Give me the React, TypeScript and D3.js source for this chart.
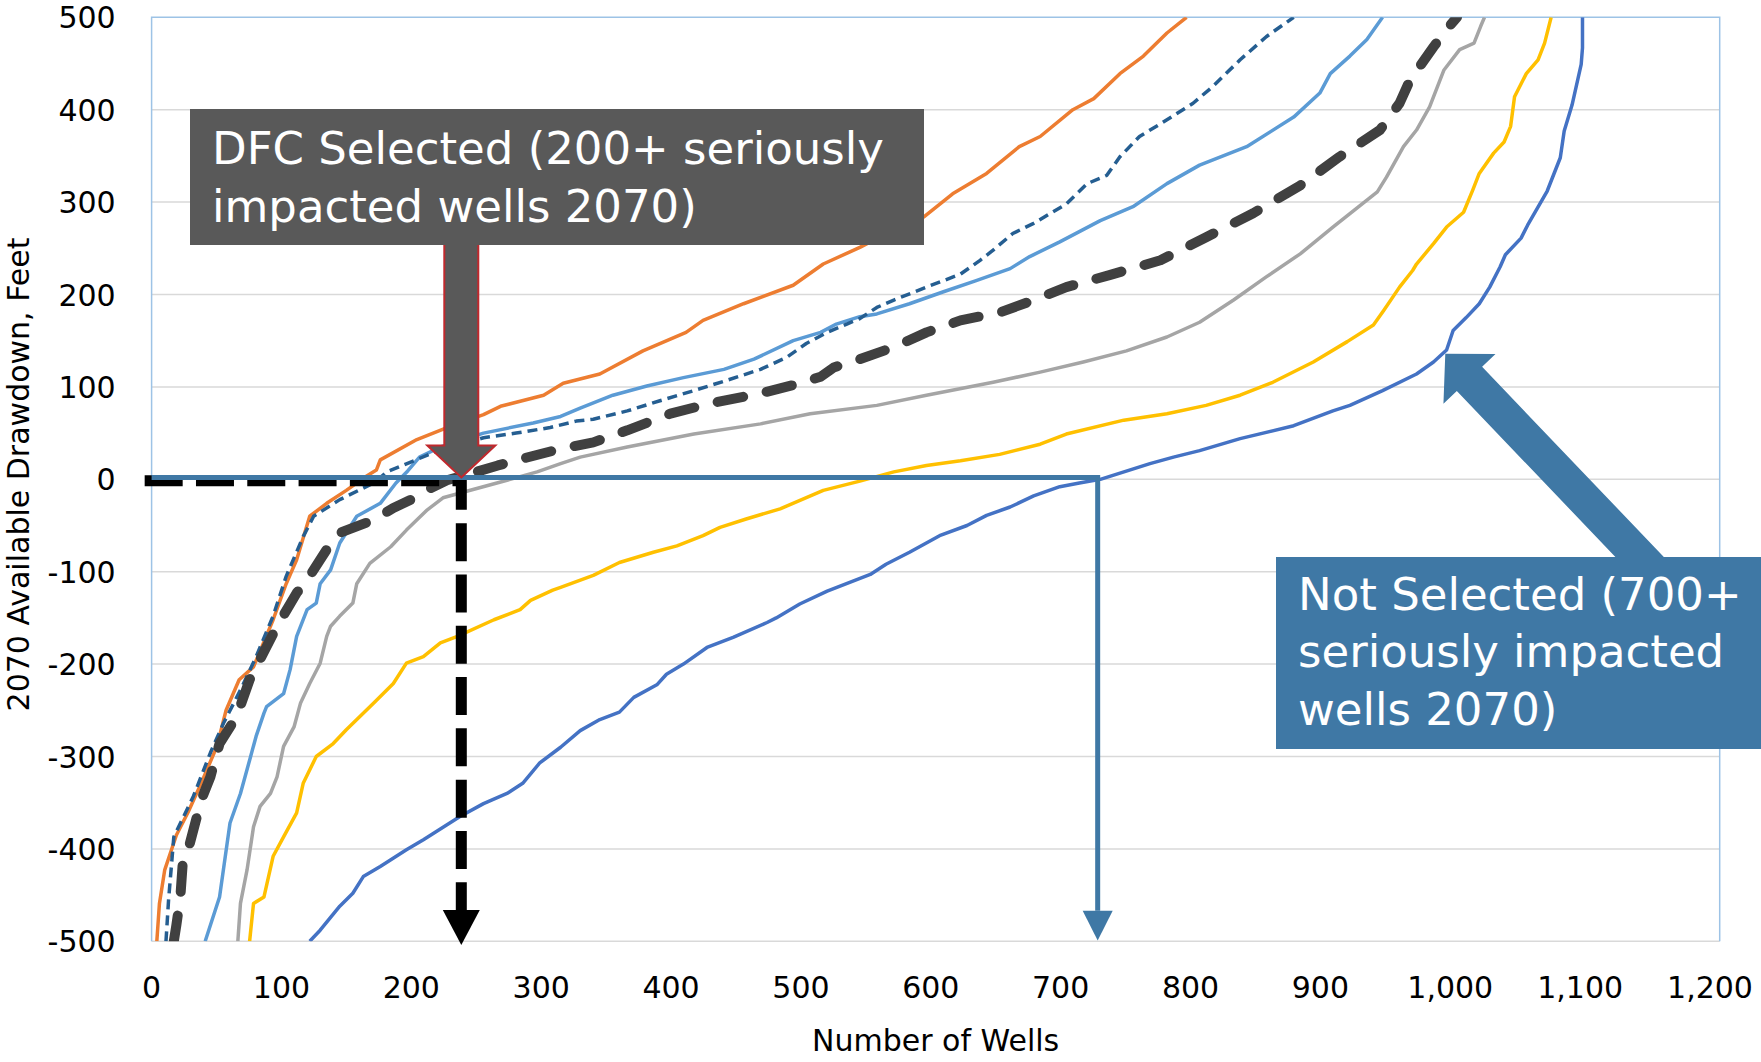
import React, { useLayoutEffect } from "react";
import * as d3 from "d3";

type Pt = [number, number];

// ---- axis ticks ----
const xTicks = [0, 100, 200, 300, 400, 500, 600, 700, 800, 900, 1000, 1100, 1200];
const yTicks = [-500, -400, -300, -200, -100, 0, 100, 200, 300, 400, 500];

// ---- series: [number of wells, 2070 available drawdown (ft)] ----
const seriesOrange: Pt[] = [
  [4, -500], [6, -459], [10, -423], [19, -385], [28, -360], [37, -332], [50, -289], [57, -250],
  [67, -217], [78, -203], [93, -152], [103, -113], [111, -87], [121, -40], [134, -26], [149, -12],
  [164, 3], [172, 10], [175, 21], [203, 43], [228, 57], [254, 70], [267, 79], [300, 91], [315, 104],
  [343, 114], [376, 139], [409, 159], [422, 172], [453, 190], [491, 210], [514, 233], [542, 251],
  [568, 270], [591, 284], [613, 309], [639, 331], [664, 360], [680, 371], [705, 400], [721, 412],
  [741, 439], [759, 458], [777, 483], [792, 500],
];

const seriesDarkBlueDash: Pt[] = [
  [11, -500], [13, -455], [17, -387], [32, -343], [45, -296], [55, -264], [68, -228], [80, -192],
  [93, -148], [103, -105], [116, -62], [124, -40], [144, -22], [170, -4], [180, 8], [216, 29],
  [254, 45], [279, 50], [305, 56], [325, 63], [338, 65], [364, 74], [389, 85], [415, 96], [440, 107],
  [466, 119], [486, 132], [501, 147], [517, 159], [532, 168], [542, 174], [555, 186], [568, 194],
  [593, 208], [619, 222], [634, 237], [644, 248], [659, 266], [675, 277], [700, 298], [716, 320],
  [731, 329], [741, 349], [756, 371], [777, 389], [797, 407], [812, 425], [833, 454], [853, 479],
  [874, 500],
];

const seriesLightBlue: Pt[] = [
  [41, -500], [52, -452], [60, -372], [68, -340], [75, -304], [80, -278], [86, -253], [88, -246],
  [101, -232], [106, -206], [111, -170], [119, -141], [126, -134], [129, -113], [137, -98],
  [144, -69], [157, -40], [175, -26], [187, -4], [196, 9], [205, 24], [221, 35], [254, 50],
  [292, 61], [313, 68], [328, 77], [353, 91], [379, 101], [407, 110], [438, 119], [461, 130],
  [491, 150], [512, 159], [524, 168], [542, 176], [555, 179], [580, 190], [606, 203], [631, 215],
  [657, 228], [672, 241], [695, 257], [726, 280], [751, 295], [777, 320], [802, 340], [838, 360],
  [874, 392], [894, 418], [902, 439], [917, 458], [930, 476], [942, 500],
];

const seriesDarkGrayDash: Pt[] = [
  [17, -500], [19, -482], [22, -452], [24, -412], [28, -401], [38, -347], [45, -322], [52, -286],
  [65, -257], [75, -217], [96, -159], [111, -123], [119, -109], [134, -76], [144, -58], [170, -44],
  [185, -31], [203, -19], [213, -10], [226, -1], [246, 7], [265, 15], [291, 25], [313, 33],
  [338, 40], [364, 53], [397, 71], [427, 82], [466, 93], [491, 102], [512, 111], [522, 121],
  [542, 130], [568, 143], [593, 159], [619, 172], [650, 181], [675, 194], [700, 208], [733, 221],
  [772, 237], [807, 262], [843, 288], [879, 318], [909, 349], [940, 378], [955, 407], [963, 432],
  [981, 468], [991, 487], [999, 500],
];

const seriesGray: Pt[] = [
  [66, -500], [68, -459], [73, -423], [78, -376], [83, -354], [91, -340], [96, -322], [101, -289],
  [109, -268], [114, -242], [121, -221], [129, -199], [134, -170], [137, -159], [144, -148],
  [154, -134], [157, -113], [167, -91], [183, -73], [195, -55], [211, -33], [223, -20], [246, -11],
  [272, -1], [295, 8], [313, 17], [328, 24], [364, 35], [415, 49], [466, 60], [504, 71], [555, 80],
  [593, 91], [644, 105], [680, 116], [713, 127], [746, 139], [777, 154], [802, 170], [828, 194],
  [853, 219], [879, 244], [904, 273], [938, 311], [945, 327], [958, 360], [968, 378], [978, 403],
  [989, 443], [1001, 465], [1012, 472], [1017, 490], [1020, 500],
];

const seriesYellow: Pt[] = [
  [75, -500], [78, -459], [86, -452], [93, -408], [101, -387], [111, -361], [116, -329], [126, -300],
  [139, -286], [149, -271], [170, -242], [185, -221], [195, -199], [208, -192], [221, -177],
  [234, -170], [262, -152], [282, -141], [290, -131], [307, -120], [313, -117], [338, -104],
  [358, -90], [384, -79], [402, -72], [422, -61], [435, -52], [455, -43], [481, -32], [514, -12],
  [542, -2], [568, 8], [593, 15], [619, 20], [649, 27], [680, 38], [700, 49], [744, 64], [777, 71],
  [807, 80], [833, 91], [858, 105], [889, 127], [915, 149], [935, 167], [943, 183], [955, 208],
  [965, 226], [968, 233], [981, 255], [991, 273], [1004, 289], [1011, 313], [1016, 331],
  [1027, 353], [1035, 365], [1040, 382], [1043, 414], [1052, 439], [1061, 454], [1066, 472],
  [1071, 500],
];

const seriesBlue: Pt[] = [
  [121, -500], [129, -488], [144, -462], [154, -448], [162, -430], [175, -419], [195, -401],
  [208, -390], [236, -365], [254, -351], [272, -340], [284, -329], [297, -307], [313, -290],
  [328, -272], [343, -260], [358, -252], [369, -236], [387, -222], [394, -211], [407, -200],
  [425, -182], [445, -171], [471, -155], [478, -150], [496, -135], [517, -121], [550, -103],
  [562, -92], [580, -79], [603, -61], [624, -50], [639, -39], [657, -30], [675, -18], [695, -8],
  [710, -4], [726, 0], [764, 17], [782, 24], [802, 31], [833, 44], [874, 58], [904, 74], [917, 80],
  [942, 96], [968, 114], [981, 127], [991, 140], [996, 161], [1006, 175], [1016, 190], [1024, 208],
  [1032, 230], [1036, 243], [1048, 261], [1053, 275], [1068, 312], [1078, 348], [1081, 377],
  [1087, 405], [1094, 449], [1095, 467], [1095, 500],
];

// ---- annotation values ----
const dfcWells = 237; // DFC selected: wells at zero drawdown
const notSelectedWells = 724; // not selected: wells at zero drawdown
const notSelectedPoint: Pt = [990, 136];
const dfcLines = ["DFC Selected (200+ seriously", "impacted wells 2070)"];
const notSelLines = ["Not Selected (700+", "seriously impacted", "wells 2070)"];

const FONT = "'DejaVu Sans', sans-serif";
const STEEL = "#3f78a5";

function blockArrow(
  tx: number, ty: number, bx: number, by: number,
  headLen: number, headHalf: number, shaftHalf: number
): string {
  const dx = bx - tx, dy = by - ty;
  const len = Math.hypot(dx, dy);
  const ux = dx / len, uy = dy / len;
  const px = -uy, py = ux;
  const hx = tx + ux * headLen, hy = ty + uy * headLen;
  const pts: Pt[] = [
    [tx, ty],
    [hx + px * headHalf, hy + py * headHalf],
    [hx + px * shaftHalf, hy + py * shaftHalf],
    [bx + px * shaftHalf, by + py * shaftHalf],
    [bx - px * shaftHalf, by - py * shaftHalf],
    [hx - px * shaftHalf, hy - py * shaftHalf],
    [hx - px * headHalf, hy - py * headHalf],
  ];
  return pts.map((p) => p.join(",")).join(" ");
}

export default function App() {
  useLayoutEffect(() => {
    document.body.style.margin = "0";
  }, []);

  const W = 1761, H = 1062;
  const x = d3.scaleLinear().domain([0, 1200]).range([151.6, 1719.7]);
  // category labels in the reference sit on a slightly tighter spacing
  const xLabel = d3.scaleLinear().domain([0, 1200]).range([151.6, 1710]);
  const y = d3.scaleLinear().domain([-500, 500]).range([941.3, 17.3]);
  const line = d3.line<Pt>().x((d) => x(d[0])).y((d) => y(d[1]));
  const fmt = d3.format(",");

  const series = [
    { key: "blue", data: seriesBlue, color: "#4472c4", width: 3.5, dash: undefined as string | undefined, cap: "butt" },
    { key: "yellow", data: seriesYellow, color: "#ffc000", width: 3.5, dash: undefined, cap: "butt" },
    { key: "gray", data: seriesGray, color: "#a5a5a5", width: 3.5, dash: undefined, cap: "butt" },
    { key: "lightblue", data: seriesLightBlue, color: "#5b9bd5", width: 3.5, dash: undefined, cap: "butt" },
    { key: "orange", data: seriesOrange, color: "#ed7d31", width: 3.5, dash: undefined, cap: "butt" },
    { key: "darkblue", data: seriesDarkBlueDash, color: "#255e91", width: 3.5, dash: "10,6", cap: "butt" },
    { key: "darkgray", data: seriesDarkGrayDash, color: "#404040", width: 10, dash: "26,24", cap: "round" },
  ];

  const [x0, x1] = x.range();
  const yTop = y(500), yBot = y(-500);

  // DFC black dashed path
  const bx = x(dfcWells);
  const blackY = y(-1.5);
  const blackPath = `M${x(-5.3)},${blackY} L${bx},${blackY} L${bx},${y(-466)}`;
  const blackHead = `${bx - 18.5},${y(-466)} ${bx + 18.5},${y(-466)} ${bx},${y(-504)}`;

  // steel path for not selected
  const sx = x(notSelectedWells);
  const sy = y(2);
  const steelPath = `M${x0},${sy} L${sx},${sy} L${sx},${y(-467)}`;
  const steelHead = `${sx - 15},${y(-467)} ${sx + 15},${y(-467)} ${sx},${y(-499)}`;

  // gray arrow (DFC)
  const grayArrow = blockArrow(bx, y(2), bx, 236, 32, 34, 17);

  // big steel arrow (Not selected)
  const tipX = x(notSelectedPoint[0]), tipY = y(notSelectedPoint[1]);
  const dirX = 0.691, dirY = 0.723;
  const bigArrow = blockArrow(tipX, tipY, tipX + dirX * 345, tipY + dirY * 345, 35, 36, 17.5);

  return (
    <svg width={W} height={H} viewBox={`0 0 ${W} ${H}`} style={{ display: "block", background: "#fff" }}>
      <defs>
        <clipPath id="plotClip">
          <rect x={x0} y={yTop} width={x1 - x0} height={yBot - yTop} />
        </clipPath>
      </defs>
      <rect x={0} y={0} width={W} height={H} fill="#fff" />

      {/* gridlines */}
      {yTicks.filter((t) => t < 500).map((t) => (
        <line key={`g${t}`} x1={x0} x2={x1} y1={y(t)} y2={y(t)} stroke="#d9d9d9" strokeWidth={1.5} />
      ))}
      {/* plot border */}
      <path d={`M${x0},${yBot} L${x0},${yTop} L${x1},${yTop} L${x1},${yBot}`} fill="none" stroke="#9dc3e6" strokeWidth={1.5} />

      {/* y tick labels */}
      {yTicks.map((t) => (
        <text key={`yt${t}`} x={115.7} y={y(t) + 11} textAnchor="end" fontFamily={FONT} fontSize={30} fill="#000">
          {t}
        </text>
      ))}
      {/* x tick labels */}
      {xTicks.map((t) => (
        <text key={`xt${t}`} x={xLabel(t)} y={998} textAnchor="middle" fontFamily={FONT} fontSize={30} fill="#000">
          {fmt(t)}
        </text>
      ))}

      {/* axis titles */}
      <text x={(x0 + x1) / 2} y={1051} textAnchor="middle" fontFamily={FONT} fontSize={30} fill="#000">
        Number of Wells
      </text>
      <text
        transform={`translate(29,474.5) rotate(-90)`}
        textAnchor="middle"
        fontFamily={FONT}
        fontSize={30}
        fill="#000"
      >
        2070 Available Drawdown, Feet
      </text>

      {/* series */}
      <g clipPath="url(#plotClip)">
        {series.map((s) => (
          <path
            key={s.key}
            d={line(s.data) || ""}
            fill="none"
            stroke={s.color}
            strokeWidth={s.width}
            strokeDasharray={s.dash}
            strokeLinecap={s.cap as any}
            strokeLinejoin="round"
          />
        ))}
      </g>

      {/* DFC black dashed guide */}
      <path d={blackPath} fill="none" stroke="#000" strokeWidth={11} strokeDasharray="38,13.3" />
      <polygon points={blackHead} fill="#000" />

      {/* Not selected steel guide */}
      <path d={steelPath} fill="none" stroke={STEEL} strokeWidth={5} />
      <polygon points={steelHead} fill={STEEL} />

      {/* DFC gray arrow + box */}
      <polygon points={grayArrow} fill="#595959" stroke="#c0282d" strokeWidth={2} strokeLinejoin="miter" />
      <rect x={190} y={109} width={734} height={136} fill="#595959" />
      {dfcLines.map((l, i) => (
        <text key={`d${i}`} x={212} y={164 + i * 57.7} fontFamily={FONT} fontSize={45} fill="#fff">
          {l}
        </text>
      ))}

      {/* Not selected arrow + box */}
      <polygon points={bigArrow} fill={STEEL} />
      <rect x={1276} y={557} width={500} height={192} fill={STEEL} />
      {notSelLines.map((l, i) => (
        <text key={`n${i}`} x={1298} y={610 + i * 57.4} fontFamily={FONT} fontSize={45} fill="#fff">
          {l}
        </text>
      ))}
    </svg>
  );
}
